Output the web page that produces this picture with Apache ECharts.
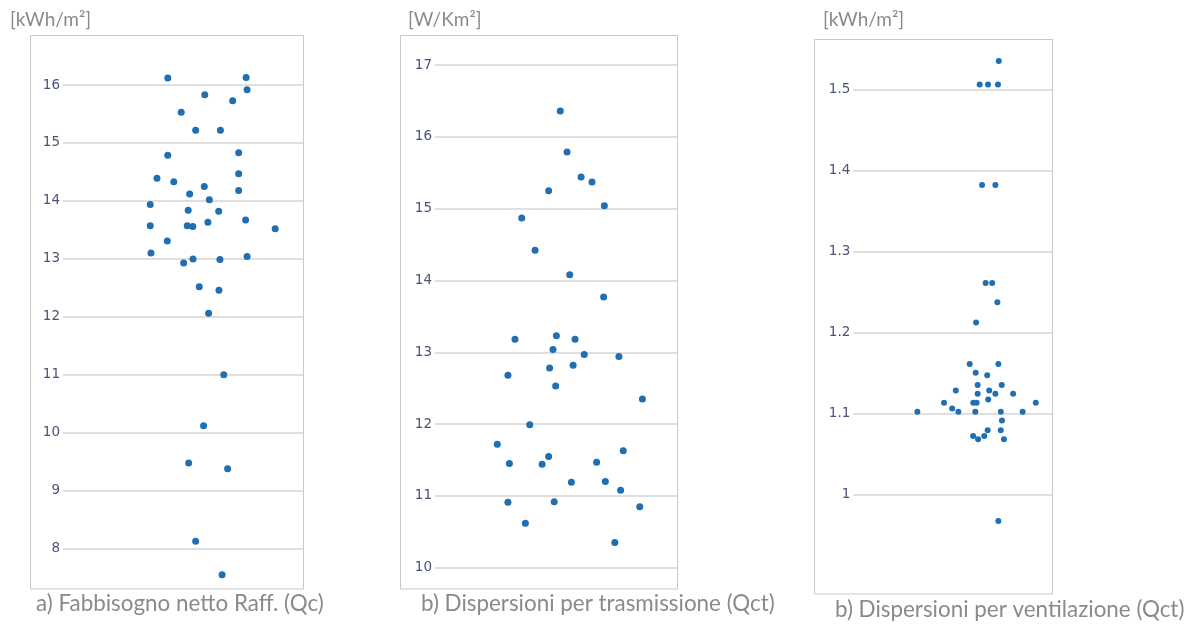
<!DOCTYPE html>
<html>
<head>
<meta charset="utf-8">
<script src="https://cdn.jsdelivr.net/npm/echarts@6/dist/echarts.min.js"></script>
<style>html,body{margin:0;padding:0;background:#fff;}#c{width:1194px;height:624px;}</style>
</head>
<body>
<div id="c"></div>
<script>
// Panel a) Fabbisogno netto Raff. (Qc) [kWh/m²]
const qcJitter = [43.6,76.2,76.6,59.0,70.6,49.2,55.2,65.5,43.6,73.1,39.1,46.1,73.1,58.8,73.1,52.7,60.9,36.3,52.1,64.8,76.0,36.3,51.7,54.0,60.3,88.3,43.4,36.6,50.2,54.1,65.3,76.6,56.7,64.9,60.6,66.9,58.5,52.3,68.5,55.2,66.2];
const qcValues = [16.12,16.13,15.92,15.83,15.73,15.53,15.22,15.22,14.79,14.83,14.39,14.33,14.47,14.25,14.18,14.12,14.02,13.94,13.84,13.82,13.67,13.57,13.57,13.56,13.63,13.52,13.31,13.10,12.93,13.00,12.99,13.04,12.52,12.46,12.06,11.00,10.12,9.48,9.38,8.13,7.55];
const qcTicks = [8,9,10,11,12,13,14,15,16];

// Panel b) Dispersioni per trasmissione (Qct) [W/Km²]
const trJitter = [51.7,54.5,60.3,64.8,46.9,69.9,35.8,41.3,55.6,69.6,33.0,50.1,57.8,48.7,61.6,75.9,30.1,47.3,57.0,49.8,85.6,39.1,25.7,77.7,30.7,46.9,44.2,66.7,56.3,70.3,76.6,30.1,49.2,84.5,37.3,74.2];
const trValues = [16.36,15.79,15.44,15.37,15.25,15.04,14.87,14.42,14.08,13.77,13.18,13.23,13.18,13.04,12.97,12.94,12.68,12.78,12.82,12.53,12.35,11.99,11.72,11.63,11.45,11.55,11.44,11.47,11.19,11.20,11.08,10.91,10.92,10.85,10.62,10.35];
const trTicks = [10,11,12,13,14,15,16,17];

// Panel b) Dispersioni per ventilazione (Qct) [kWh/m²]
const veJitter = [73.1,63.5,67.7,72.7,64.7,71.4,66.5,69.8,72.4,61.7,58.5,72.9,61.5,67.3,62.5,74.6,51.5,68.3,62.5,71.4,80.3,67.8,45.6,60.3,62.0,91.7,49.7,32.2,52.8,61.3,74.1,85.1,74.7,67.5,74.1,60.2,65.8,62.7,75.7,72.9];
const veValues = [1.535,1.506,1.506,1.506,1.382,1.382,1.261,1.261,1.237,1.212,1.161,1.161,1.150,1.147,1.135,1.135,1.128,1.128,1.124,1.124,1.124,1.117,1.113,1.113,1.113,1.113,1.106,1.102,1.102,1.102,1.102,1.102,1.091,1.079,1.079,1.072,1.072,1.068,1.068,0.967];
const veTicks = ['1','1.1','1.2','1.3','1.4','1.5'];

const units = ['[kWh/m²]','[W/Km²]','[kWh/m²]'];
const captions = ['a) Fabbisogno netto Raff. (Qc)','b) Dispersioni per trasmissione (Qct)','b) Dispersioni per ventilazione (Qct)'];

const zip = (xs, ys) => xs.map((x, i) => [x, ys[i]]);

const dotColor = '#1f6fb2';
const gridColor = '#d4d4d4';
const labelColor = '#4a5476';
const boxColor = '#c9c9c9';
const textGray = '#8a8a8a';

const grids = [
  {left: 63, top: 85, width: 240.3, height: 463.7},
  {left: 435, top: 65, width: 242.3, height: 502.7},
  {left: 853.3, top: 89.3, width: 199, height: 405}
];
const boxes = [
  {x: 30.5, y: 35.5, w: 273, h: 553.5},
  {x: 400.5, y: 35.5, w: 277, h: 553.5},
  {x: 814.5, y: 39.5, w: 238, h: 554.5}
];
const yRanges = [
  {min: qcTicks[0], max: qcTicks[qcTicks.length-1], interval: 1},
  {min: trTicks[0], max: trTicks[trTicks.length-1], interval: 1},
  {min: Number(veTicks[0]), max: Number(veTicks[veTicks.length-1]), interval: 0.1}
];
const symbolSizes = [7, 7, 6];
const datasets = [zip(qcJitter, qcValues), zip(trJitter, trValues), zip(veJitter, veValues)];

const unitStyle = {color: textGray, fontFamily: 'Lato', fontSize: 19, fontWeight: 'normal'};
const capStyle = {color: textGray, fontFamily: 'Lato', fontSize: 22.4, fontWeight: 'normal'};

const option = {
  animation: false,
  backgroundColor: '#ffffff',
  grid: grids.map(g => ({left: g.left, top: g.top, width: g.width, height: g.height, containLabel: false})),
  xAxis: grids.map((g, i) => ({type: 'value', gridIndex: i, min: 0, max: 100, show: false})),
  yAxis: yRanges.map((r, i) => ({
    type: 'value', gridIndex: i, min: r.min, max: r.max, interval: r.interval,
    axisLine: {show: false}, axisTick: {show: false},
    axisLabel: {color: labelColor, fontFamily: 'DejaVu Sans', fontSize: 13.5, margin: 3,
      formatter: v => i === 2 ? String(Math.round(v * 10) / 10) : String(v)},
    splitLine: {show: true, lineStyle: {color: gridColor, width: 1.6}}
  })),
  series: datasets.map((d, i) => ({
    type: 'scatter', xAxisIndex: i, yAxisIndex: i, data: d, clip: false,
    symbol: 'circle', symbolSize: symbolSizes[i],
    itemStyle: {color: dotColor, opacity: 1}
  })),
  title: [
    {text: units[0], left: 5, top: 5, textStyle: unitStyle},
    {text: units[1], left: 403, top: 5, textStyle: unitStyle},
    {text: units[2], left: 818, top: 5, textStyle: unitStyle},
    {text: captions[0], left: 31, top: 588, textStyle: capStyle},
    {text: captions[1], left: 416, top: 588, textStyle: capStyle},
    {text: captions[2], left: 830, top: 594, textStyle: capStyle}
  ],
  graphic: boxes.map(b => ({
    type: 'rect', z: -1, silent: true,
    shape: {x: b.x, y: b.y, width: b.w, height: b.h},
    style: {fill: 'none', stroke: boxColor, lineWidth: 1}
  }))
};

const chart = echarts.init(document.getElementById('c'), null, {renderer: 'canvas'});
chart.setOption(option);
</script>
</body>
</html>
